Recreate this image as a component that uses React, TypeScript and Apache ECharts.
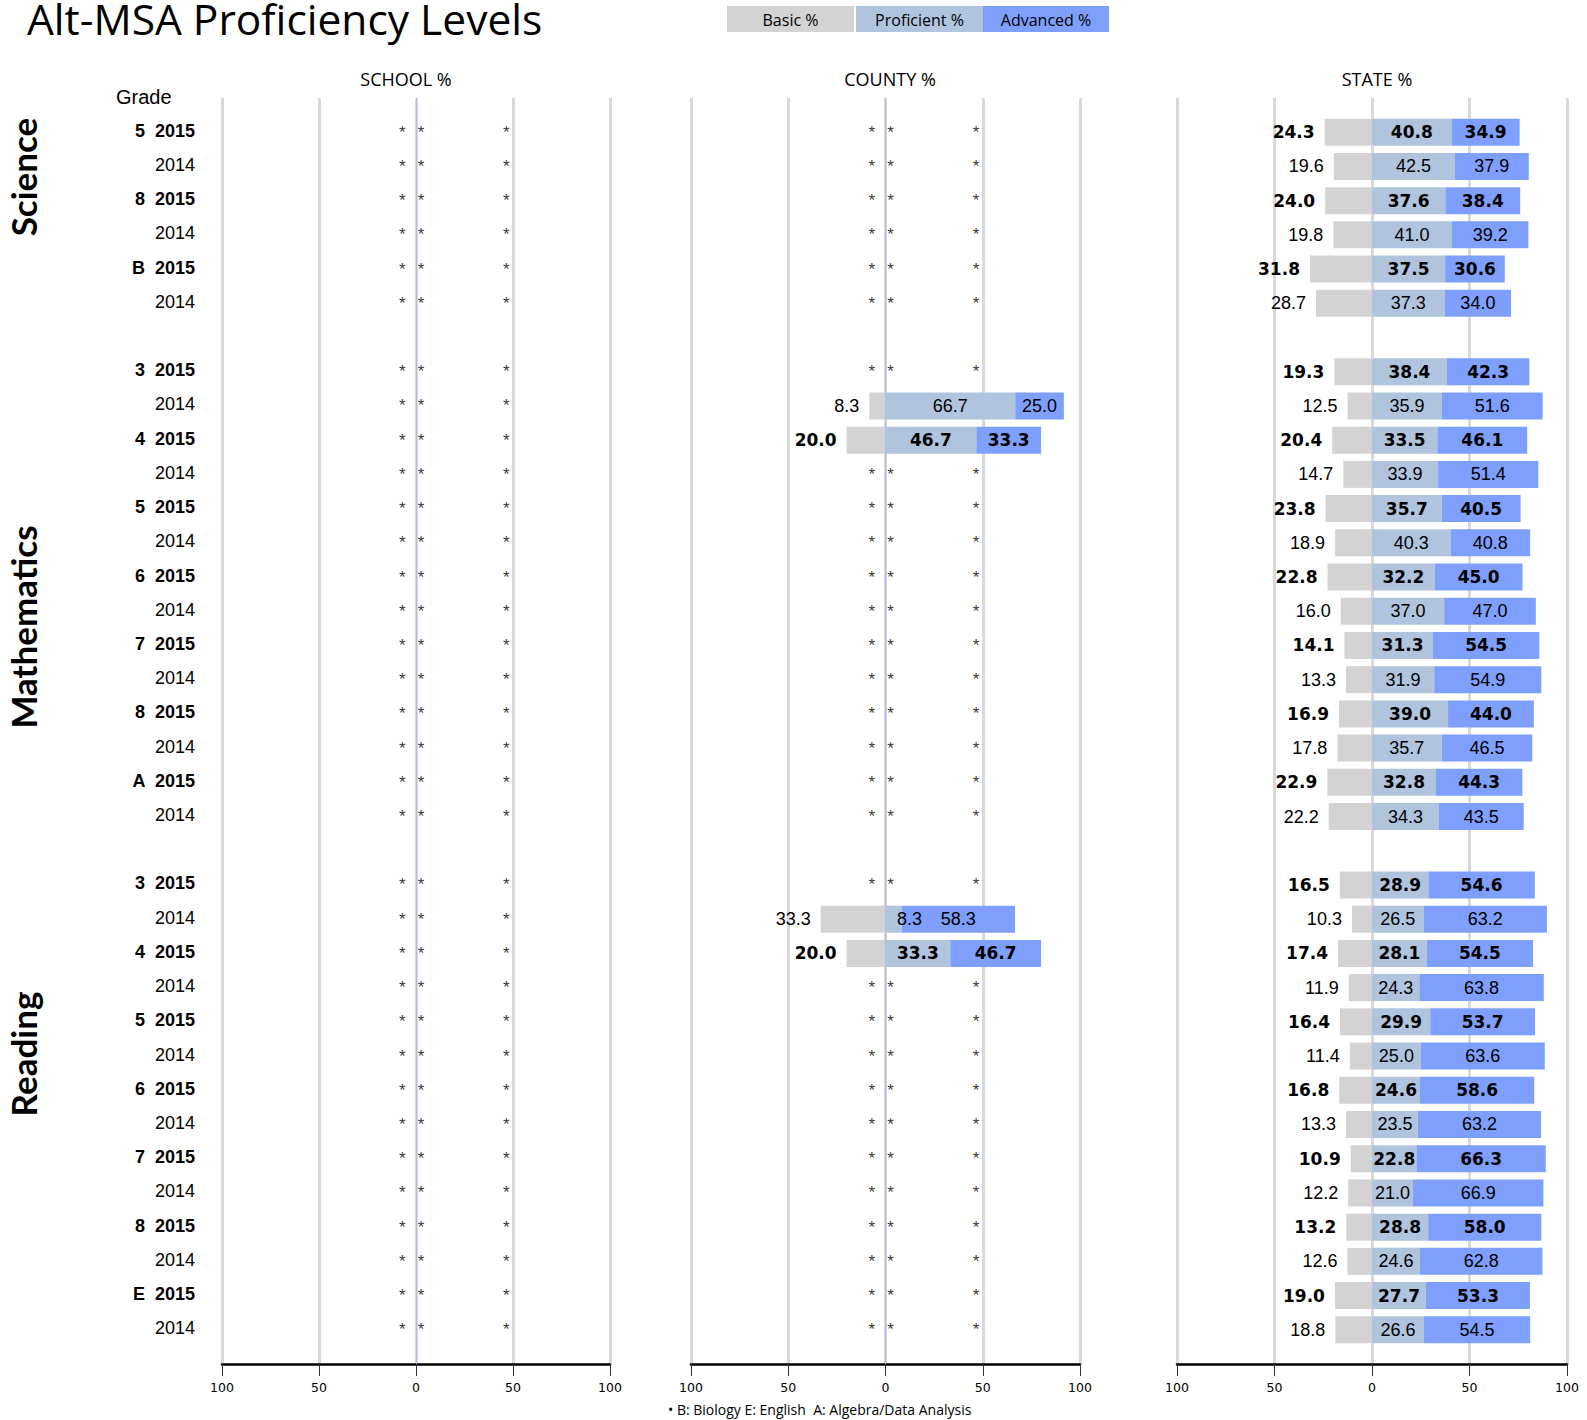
import React, { useEffect, useRef } from "react";
import * as echarts from "echarts";

// ---------- DATA ----------
const S = "*"; // suppressed value shown as "*"

const ROW_LABELS = [
  "5  2015", "2014", "8  2015", "2014", "B  2015", "2014", "",
  "3  2015", "2014", "4  2015", "2014", "5  2015", "2014", "6  2015", "2014",
  "7  2015", "2014", "8  2015", "2014", "A  2015", "2014", "",
  "3  2015", "2014", "4  2015", "2014", "5  2015", "2014", "6  2015", "2014",
  "7  2015", "2014", "8  2015", "2014", "E  2015", "2014",
];

const SUBJECTS = ["Science", "Mathematics", "Reading"];
const PANEL_TITLES = ["SCHOOL %", "COUNTY %", "STATE %"];
const LEGEND_NAMES = ["Basic %", "Proficient %", "Advanced %"];
const X_TICKS = [-100, -50, 0, 50, 100];
const FOOTNOTE = "• B: Biology E: English  A: Algebra/Data Analysis";

const SCHOOL_BASIC = [S, S, S, S, S, S, null, S, S, S, S, S, S, S, S, S, S, S, S, S, S, null, S, S, S, S, S, S, S, S, S, S, S, S, S, S];
const SCHOOL_PROF = [S, S, S, S, S, S, null, S, S, S, S, S, S, S, S, S, S, S, S, S, S, null, S, S, S, S, S, S, S, S, S, S, S, S, S, S];
const SCHOOL_ADV = [S, S, S, S, S, S, null, S, S, S, S, S, S, S, S, S, S, S, S, S, S, null, S, S, S, S, S, S, S, S, S, S, S, S, S, S];

const COUNTY_BASIC = [S, S, S, S, S, S, null, S, 8.3, 20.0, S, S, S, S, S, S, S, S, S, S, S, null, S, 33.3, 20.0, S, S, S, S, S, S, S, S, S, S, S];
const COUNTY_PROF = [S, S, S, S, S, S, null, S, 66.7, 46.7, S, S, S, S, S, S, S, S, S, S, S, null, S, 8.3, 33.3, S, S, S, S, S, S, S, S, S, S, S];
const COUNTY_ADV = [S, S, S, S, S, S, null, S, 25.0, 33.3, S, S, S, S, S, S, S, S, S, S, S, null, S, 58.3, 46.7, S, S, S, S, S, S, S, S, S, S, S];

const STATE_BASIC = [24.3, 19.6, 24.0, 19.8, 31.8, 28.7, null,
  19.3, 12.5, 20.4, 14.7, 23.8, 18.9, 22.8, 16.0, 14.1, 13.3, 16.9, 17.8, 22.9, 22.2, null,
  16.5, 10.3, 17.4, 11.9, 16.4, 11.4, 16.8, 13.3, 10.9, 12.2, 13.2, 12.6, 19.0, 18.8];
const STATE_PROF = [40.8, 42.5, 37.6, 41.0, 37.5, 37.3, null,
  38.4, 35.9, 33.5, 33.9, 35.7, 40.3, 32.2, 37.0, 31.3, 31.9, 39.0, 35.7, 32.8, 34.3, null,
  28.9, 26.5, 28.1, 24.3, 29.9, 25.0, 24.6, 23.5, 22.8, 21.0, 28.8, 24.6, 27.7, 26.6];
const STATE_ADV = [34.9, 37.9, 38.4, 39.2, 30.6, 34.0, null,
  42.3, 51.6, 46.1, 51.4, 40.5, 40.8, 45.0, 47.0, 54.5, 54.9, 44.0, 46.5, 44.3, 43.5, null,
  54.6, 63.2, 54.5, 63.8, 53.7, 63.6, 58.6, 63.2, 66.3, 66.9, 58.0, 62.8, 53.3, 54.5];

// ---------- STYLE ----------
const COLORS = ["#d3d3d3", "#b0c4de", "#7f9ffc"];
const GRID_LEFTS = [222, 691, 1177];
const GRID_WIDTHS = [388, 389, 390];
const GRID_TOP = 98;
const GRID_HEIGHT = 1266;
const STAR_OFFSETS = [-7, 2.6, 46.5];
const BOLD_LABEL = { fontFamily: "DejaVu Sans", fontWeight: "bold", fontSize: 17, color: "#000" };
const NORMAL_LABEL = { fontFamily: "Liberation Sans", fontWeight: "normal", fontSize: 18, color: "#000" };

const CATS = ["top", ...ROW_LABELS.map((_, i) => "r" + i), "bottom"];

function isBold(i: number) {
  return ROW_LABELS[i].endsWith("2015");
}

function barData(values: any[], sign: number, isProf = false) {
  return [null, ...values.map((v, i) => {
    if (typeof v !== "number") return null;
    const lab: any = { ...(isBold(i) ? BOLD_LABEL : NORMAL_LABEL) };
    if (isProf && v < 12) lab.offset = [16, 0];
    return { value: sign * v, label: lab };
  }), null];
}

function panelSeries(p: number, basic: any[], prof: any[], adv: any[], zeroLine: boolean) {
  const fmt = (params: any) => Math.abs(params.value).toFixed(1);
  const series: any[] = [
    {
      type: "bar", name: LEGEND_NAMES[0], xAxisIndex: p, yAxisIndex: p, stack: "s" + p,
      barWidth: 27, data: barData(basic, -1),
      itemStyle: { color: COLORS[0] },
      label: { show: true, position: "left", distance: 10, formatter: fmt },
    },
    {
      type: "bar", name: LEGEND_NAMES[1], xAxisIndex: p, yAxisIndex: p, stack: "s" + p,
      barWidth: 27, data: barData(prof, 1, true),
      itemStyle: { color: COLORS[1] },
      label: { show: true, position: "inside", formatter: fmt },
    },
    {
      type: "bar", name: LEGEND_NAMES[2], xAxisIndex: p, yAxisIndex: p, stack: "s" + p,
      barWidth: 27, data: barData(adv, 1),
      itemStyle: { color: COLORS[2] },
      label: { show: true, position: "inside", formatter: fmt },
    },
  ];
  const stars: any[] = [];
  basic.forEach((v, i) => {
    if (v === S) STAR_OFFSETS.forEach((o) => stars.push([o, i + 1]));
  });
  if (stars.length || zeroLine) {
    series.push({
      type: "scatter", xAxisIndex: p, yAxisIndex: p, z: 1,
      symbolSize: 1, itemStyle: { color: "transparent" },
      data: stars,
      label: {
        show: true, position: "inside", formatter: S,
        fontFamily: "Liberation Sans", fontSize: 17, color: "#000",
      },
      markLine: zeroLine ? {
        silent: true, symbol: ["none", "none"], label: { show: false },
        lineStyle: { color: "#a9bdf2", width: 1, type: "solid" },
        data: [{ xAxis: 0 }],
      } : undefined,
    });
  }
  return series;
}

export default function App() {
  const ref = useRef<HTMLDivElement>(null);
  useEffect(() => {
    if (!ref.current) return;
    const chart = echarts.init(ref.current, undefined, { renderer: "svg" });

    const grids = GRID_LEFTS.map((l, i) => ({ left: l, top: GRID_TOP, width: GRID_WIDTHS[i], height: GRID_HEIGHT }));
    const xAxes = GRID_LEFTS.map((_, i) => ({
      type: "value", gridIndex: i, min: X_TICKS[0], max: X_TICKS[X_TICKS.length - 1], interval: 50,
      axisLine: { show: true, onZero: false, lineStyle: { color: "#000", width: 2.5 } },
      axisTick: { show: true, length: 12, lineStyle: { color: "#333", width: 1 } },
      axisLabel: {
        formatter: (v: number) => String(Math.abs(v)), fontFamily: "DejaVu Sans", fontSize: 12.5,
        color: "#000", margin: 17,
      },
      splitLine: { show: true, lineStyle: { color: "#d9d9d9", width: 3 } },
    }));
    const yAxes = GRID_LEFTS.map((_, i) => ({
      type: "category", gridIndex: i, data: CATS, inverse: true, boundaryGap: false,
      axisLine: { show: false, onZero: false },
      axisTick: { show: false },
      splitLine: { show: false },
      axisLabel: i === 0 ? {
        show: true, interval: 0, margin: 27,
        formatter: (_v: string, idx: number) => {
          const lab = idx >= 1 && idx <= ROW_LABELS.length ? ROW_LABELS[idx - 1] : "";
          if (!lab) return "";
          return lab.endsWith("2015") ? `{b|${lab}}` : `{n|${lab}}`;
        },
        rich: {
          b: { fontFamily: "Liberation Sans", fontWeight: "bold", fontSize: 18, color: "#000", padding: [0, 0, 3, 0] },
          n: { fontFamily: "Liberation Sans", fontWeight: "normal", fontSize: 18, color: "#000", padding: [0, 0, 3, 0] },
        },
      } : { show: false },
    }));

    const series = [
      ...panelSeries(0, SCHOOL_BASIC, SCHOOL_PROF, SCHOOL_ADV, true),
      ...panelSeries(1, COUNTY_BASIC, COUNTY_PROF, COUNTY_ADV, true),
      ...panelSeries(2, STATE_BASIC, STATE_PROF, STATE_ADV, false),
    ];

    const legendBoxes = [[727, 127], [856, 127], [983, 126]];
    const graphic: any[] = [
      {
        type: "text", x: 27, y: 18,
        style: { text: "Alt-MSA Proficiency Levels", fontFamily: "Open Sans", fontSize: 42.5, lineHeight: 36, fill: "#000", align: "left", verticalAlign: "middle" },
      },
      ...LEGEND_NAMES.flatMap((n, i) => [
        { type: "rect", shape: { x: legendBoxes[i][0], y: 6, width: legendBoxes[i][1], height: 26 }, style: { fill: COLORS[i] } },
        {
          type: "text", x: legendBoxes[i][0] + legendBoxes[i][1] / 2, y: 20,
          style: { text: n, fontFamily: "Open Sans", fontSize: 16, fill: "#000", align: "center", verticalAlign: "middle" },
        },
      ]),
      ...PANEL_TITLES.map((t, i) => ({
        type: "text", x: [406, 890, 1377][i], y: 79,
        style: { text: t, fontFamily: "Open Sans", fontSize: 18, fill: "#000", align: "center", verticalAlign: "middle" },
      })),
      {
        type: "text", x: 116, y: 97,
        style: { text: "Grade", fontFamily: "Liberation Sans", fontSize: 20, fill: "#000", align: "left", verticalAlign: "middle" },
      },
      ...SUBJECTS.map((s, i) => ({
        type: "text", x: 23, y: [177, 627, 1054][i], rotation: Math.PI / 2,
        style: { text: s, fontFamily: "Lato", fontWeight: "bold", fontSize: 35, fill: "#000", align: "center", verticalAlign: "middle" },
      })),
      {
        type: "text", x: 668, y: 1409,
        style: { text: FOOTNOTE, fontFamily: "Open Sans", fontSize: 14, fill: "#000", align: "left", verticalAlign: "middle" },
      },
    ];

    chart.setOption({
      animation: false,
      backgroundColor: "#fff",
      grid: grids,
      xAxis: xAxes,
      yAxis: yAxes,
      series,
      graphic,
    });
    return () => chart.dispose();
  }, []);
  return <div ref={ref} style={{ position: "absolute", left: 0, top: 0, width: 1587, height: 1420 }} />;
}
